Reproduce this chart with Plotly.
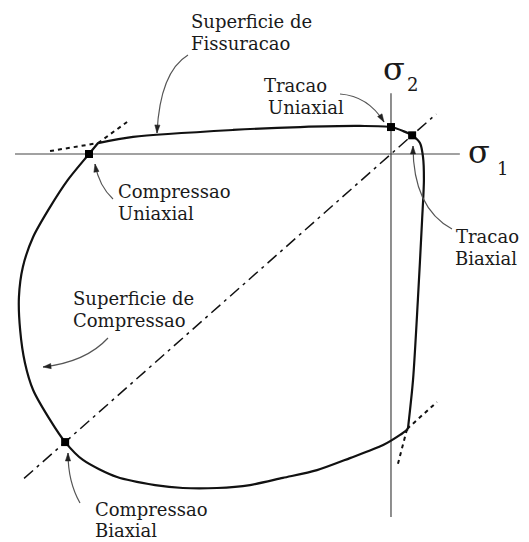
import plotly.graph_objects as go

W, H = 529, 542

# Stresses normalised by the uniaxial compressive strength (sigma1, sigma2).
# Cracking surface: from the corner beside uniaxial compression, across the
# tension side, round the biaxial-tension corner and down the right branch.
crack_s1 = [-0.970, -0.854, -0.523, -0.301, -0.103, 0.000, 0.040, 0.070,
            0.096, 0.106, 0.109, 0.103, 0.089, 0.073, 0.056]
crack_s2 = [0.041, 0.064, 0.090, 0.101, 0.105, 0.101, 0.086, 0.070,
            0.041, -0.011, -0.097, -0.247, -0.547, -0.846, -1.030]

# Compression (crushing) surface: bottom branch, biaxial compression,
# left branch, back up through uniaxial compression.
crush_s1 = [0.056, 0.030, -0.026, -0.136, -0.245, -0.358, -0.467, -0.576,
            -0.689, -0.781, -0.907, -1.020, -1.079, -1.129, -1.185, -1.212,
            -1.228, -1.232, -1.219, -1.185, -1.129, -1.070, -1.000, -0.970]
crush_s2 = [-1.030, -1.052, -1.090, -1.139, -1.184, -1.213, -1.240, -1.251,
            -1.251, -1.240, -1.210, -1.146, -1.079, -0.996, -0.884, -0.783,
            -0.659, -0.536, -0.423, -0.311, -0.199, -0.097, 0.000, 0.041]

# Characteristic stress states
point_names = ["Compressao Uniaxial", "Tracao Uniaxial",
               "Tracao Biaxial", "Compressao Biaxial"]
point_s1 = [-1.000, 0.000, 0.070, -1.079]
point_s2 = [0.000, 0.101, 0.070, -1.079]

# Equal biaxial path sigma1 = sigma2
diag_s = [-1.215, 0.150]

# Extent of the two stress axes
s1_axis = [-1.245, 0.228]
s2_axis = [-1.360, 0.228]

# Tangent extensions at the corners of the envelope
tangent_s1 = [[-1.129, -0.970], [-0.970, -0.874], [0.053, 0.152], [0.053, 0.023]]
tangent_s2 = [[0.011, 0.041], [0.041, 0.120], [-1.030, -0.929], [-1.030, -1.161]]

SERIF = "DejaVu Serif, Liberation Serif, serif"
INK = "#111111"
TEXT = "#1a1a1a"

fig = go.Figure()

# stress axes
fig.add_trace(go.Scatter(x=s1_axis, y=[0, 0], mode="lines",
                         line=dict(color="#444444", width=1.2), hoverinfo="skip"))
fig.add_trace(go.Scatter(x=[0, 0], y=s2_axis, mode="lines",
                         line=dict(color="#444444", width=1.2), hoverinfo="skip"))

# sigma1 = sigma2 line
fig.add_trace(go.Scatter(x=diag_s, y=diag_s, mode="lines",
                         line=dict(color=INK, width=1.5, dash="12px,5px,3px,5px"),
                         hoverinfo="skip"))

# tangent extensions
for tx, ty in zip(tangent_s1, tangent_s2):
    fig.add_trace(go.Scatter(x=tx, y=ty, mode="lines",
                             line=dict(color=INK, width=2, dash="4px,4px"),
                             hoverinfo="skip"))

# envelope
fig.add_trace(go.Scatter(x=crack_s1, y=crack_s2, mode="lines",
                         line=dict(color=INK, width=2.2, shape="spline", smoothing=0.8),
                         name="Superficie de Fissuracao"))
fig.add_trace(go.Scatter(x=crush_s1, y=crush_s2, mode="lines",
                         line=dict(color=INK, width=2.2, shape="spline", smoothing=0.8),
                         name="Superficie de Compressao"))

# characteristic points
fig.add_trace(go.Scatter(x=point_s1, y=point_s2, mode="markers", text=point_names,
                         marker=dict(symbol="square", size=8, color="#000000"),
                         hoverinfo="text"))


def P(x, y):
    """Pixel position on the page -> paper coordinates."""
    return x / W, 1 - y / H


# text labels: (text, left x, centre y, size)
labels = [
    ("Superficie de", 189, 21, 18), ("Fissuracao", 189, 43, 18),
    ("Tracao", 262, 86, 18), ("Uniaxial", 266, 108, 18),
    ("Compressao", 116, 191, 18), ("Uniaxial", 116, 213, 18),
    ("Tracao", 454, 236, 18), ("Biaxial", 453, 258, 18),
    ("Superficie de", 71, 298, 18), ("Compressao", 71, 320, 18),
    ("Compressao", 93, 509, 18), ("Biaxial", 93, 530, 18),
]
ann = []
for text, x, y, size in labels:
    px, py = P(x, y)
    ann.append(dict(text=text, x=px, y=py, xref="paper", yref="paper",
                    xanchor="left", yanchor="middle", showarrow=False,
                    font=dict(family=SERIF, size=size, color=TEXT)))

# axis symbols
for text, x, y, size in [("σ", 466, 152, 32), ("1", 495, 168, 18),
                         ("σ", 381, 69, 32), ("2", 405, 84, 18)]:
    px, py = P(x, y)
    ann.append(dict(text=text, x=px, y=py, xref="paper", yref="paper",
                    xanchor="left", yanchor="middle", showarrow=False,
                    font=dict(family=SERIF, size=size, color=TEXT)))

# curved leaders: start, control, tip (page pixels)
leaders = [
    ((188, 55), (160, 72), (157, 133)),
    ((340, 94), (368, 96), (384, 122)),
    ((113, 199), (99, 186), (95, 164)),
    ((452, 229), (413, 208), (413, 146)),
    ((108, 338), (86, 362), (43, 367)),
    ((80, 503), (68, 482), (68, 453)),
]
shapes = []
for (x0, y0), (cx, cy), (x1, y1) in leaders:
    a, b = P(x0, y0)
    c, d = P(cx, cy)
    e, f = P(x1, y1)
    shapes.append(dict(type="path", xref="paper", yref="paper",
                       path=f"M {a},{b} Q {c},{d} {e},{f}",
                       line=dict(color="#555555", width=1.2)))
    dx, dy = x1 - cx, y1 - cy
    n = (dx * dx + dy * dy) ** 0.5
    dx, dy = dx / n, dy / n
    L, w = 8, 2.6
    bx, by = x1 - dx * L, y1 - dy * L
    p1 = P(x1, y1)
    p2 = P(bx - dy * w, by + dx * w)
    p3 = P(bx + dy * w, by - dx * w)
    shapes.append(dict(type="path", xref="paper", yref="paper",
                       path=f"M {p1[0]},{p1[1]} L {p2[0]},{p2[1]} L {p3[0]},{p3[1]} Z",
                       fillcolor="#222222", line=dict(color="#222222", width=0.5)))

fig.update_layout(
    width=W, height=H,
    margin=dict(l=0, r=0, t=0, b=0),
    paper_bgcolor="white", plot_bgcolor="white",
    showlegend=False,
    xaxis=dict(range=[-1.2947, 0.4570], visible=False, fixedrange=True),
    yaxis=dict(range=[-1.4532, 0.5768], visible=False, fixedrange=True),
    annotations=ann,
    shapes=shapes,
)

fig.write_html("out.html")
